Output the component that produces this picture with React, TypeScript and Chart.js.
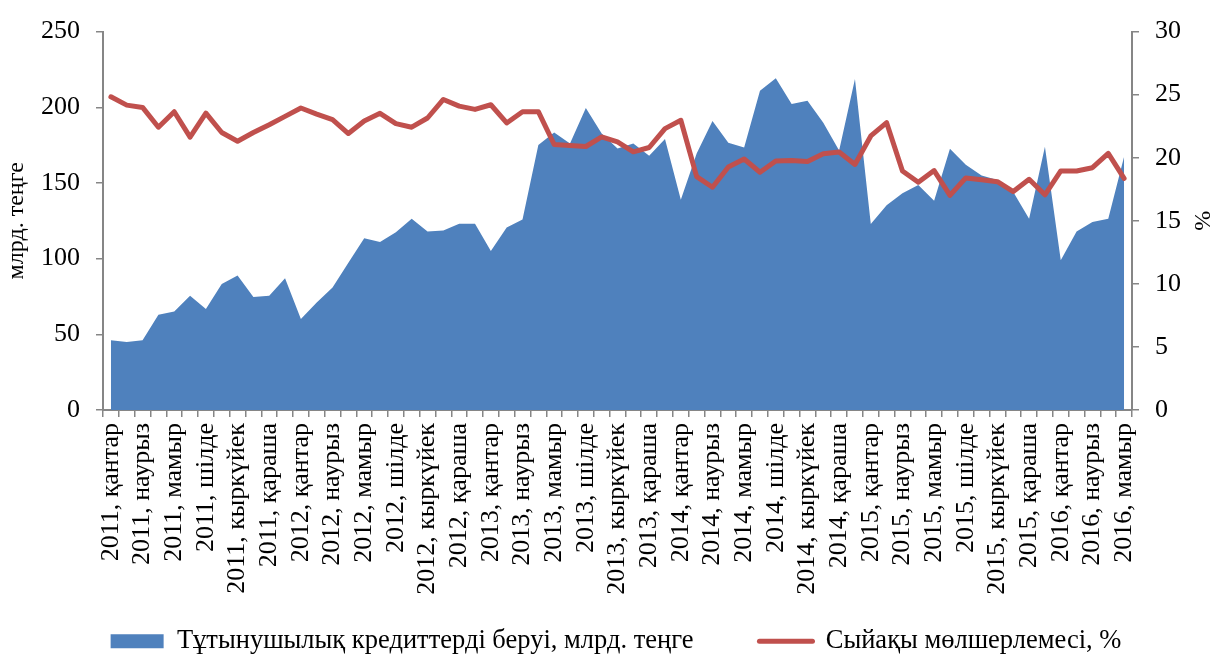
import { useEffect, useRef } from "react";
import { Chart, registerables } from "chart.js";

Chart.register(...registerables);

const YEARS = ["2011", "2012", "2013", "2014", "2015", "2016"];
const MONTHS = [
  "қантар", "ақпан", "наурыз", "сәуір", "мамыр", "маусым",
  "шілде", "тамыз", "кыркүйек", "қазан", "қараша", "желтоқсан",
];
const MONTH_COUNT = 65; // 2011 Jan .. 2016 May

const CATEGORIES: string[] = [];
for (let i = 0; i < MONTH_COUNT; i++) {
  CATEGORIES.push(YEARS[Math.floor(i / 12)] + ", " + MONTHS[i % 12]);
}

// Consumer loans issued, bn tenge (left axis)
const LOANS = [
  46, 45, 46, 63, 65, 75.5, 66.7, 83.3, 88.8, 74.6,
  75.5, 87, 60.2, 71, 80.9, 97.3, 113.5, 111, 117.4, 126.4,
  118, 118.6, 123.1, 123.1, 105, 120.5, 125.8, 175, 183.3, 176,
  199.5, 182.6, 172.8, 176, 168, 179, 138.9, 169.5, 191, 176.5,
  173.4, 211, 219.2, 202.1, 204.3, 189.8, 171.5, 218.7, 122.9, 135.2,
  143.2, 148.7, 138.2, 172.6, 162, 155, 152, 144, 126.4, 173.9,
  98.9, 118, 124.2, 126.4, 167.3,
];

// Interest rate, % (right axis)
const RATE = [
  24.83, 24.17, 23.99, 22.42, 23.65, 21.63, 23.54, 22.0, 21.31, 22.0,
  22.62, 23.28, 23.94, 23.46, 23.02, 21.92, 22.91, 23.52, 22.7, 22.42,
  23.15, 24.62, 24.09, 23.83, 24.2, 22.76, 23.65, 23.65, 21.05, 20.97,
  20.89, 21.65, 21.26, 20.47, 20.81, 22.31, 22.97, 18.5, 17.66, 19.27,
  19.9, 18.85, 19.74, 19.79, 19.71, 20.31, 20.45, 19.47, 21.73, 22.78,
  18.95, 18.06, 18.98, 17.01, 18.4, 18.25, 18.1, 17.32, 18.29, 17.06,
  18.95, 18.95, 19.21, 20.34, 18.37,
];

const LOANS_LABEL = "Тұтынушылық кредиттерді беруі, млрд. теңге";
const RATE_LABEL = "Сыйақы мөлшерлемесі, %";
const LEFT_TITLE = "млрд. теңге";
const RIGHT_TITLE = "%";

const FONT = "'Liberation Serif', 'Times New Roman', serif";
const AXIS_GRAY = "#868686";

const LEGEND_GAP = 66;
const LEGEND_HEIGHT = 42;
const LEGEND_SHIFT = 53;
const PAD_LEFT = 16;

// Keeps a wide horizontal gap between legend items while keeping the legend box short.
const legendSpacing = {
  id: "legendSpacing",
  beforeUpdate(chart: any) {
    const lg = chart.legend;
    if (!lg || lg._spacingPatched) return;
    lg._spacingPatched = true;
    const fit = lg.fit;
    lg.fit = function () {
      fit.call(this);
      this.height = LEGEND_HEIGHT;
    };
    const draw = lg.draw;
    lg.draw = function () {
      const t = this.top;
      this.top = t - LEGEND_SHIFT;
      draw.call(this);
      this.top = t;
    };
  },
};

export default function App() {
  const ref = useRef<HTMLCanvasElement | null>(null);

  useEffect(() => {
    if (!ref.current) return;
    const tickFont = { family: FONT, size: 26 };
    const chart = new Chart(ref.current, {
      type: "line",
      data: {
        labels: CATEGORIES,
        datasets: [
          {
            label: RATE_LABEL,
            data: RATE,
            yAxisID: "y1",
            borderColor: "#C0504D",
            backgroundColor: "#C0504D",
            borderWidth: 5,
            borderCapStyle: "round",
            borderJoinStyle: "round",
            pointRadius: 0,
            pointHoverRadius: 0,
            tension: 0,
            fill: false,
          },
          {
            label: LOANS_LABEL,
            data: LOANS,
            yAxisID: "y",
            borderColor: "rgba(0,0,0,0)",
            backgroundColor: "#4F81BD",
            borderWidth: 0,
            pointRadius: 0,
            pointHoverRadius: 0,
            tension: 0,
            fill: "origin",
          },
        ],
      },
      plugins: [legendSpacing],
      options: {
        responsive: false,
        animation: false,
        layout: { padding: { top: 29, left: PAD_LEFT, right: 0, bottom: 0 } },
        plugins: {
          tooltip: { enabled: false },
          legend: {
            position: "bottom",
            labels: {
              usePointStyle: true,
              pointStyleWidth: 53,
              boxHeight: 14,
              padding: LEGEND_GAP,
              color: "#000",
              font: { family: FONT, size: 26.5 },
              sort: (a: any, b: any) => b.datasetIndex - a.datasetIndex,
              generateLabels: (c: any) => {
                const items = Chart.defaults.plugins.legend.labels.generateLabels(c);
                return items.map((it: any) => ({
                  ...it,
                  pointStyle: it.datasetIndex === 0 ? "line" : "rect",
                  lineWidth: it.datasetIndex === 0 ? 5 : 0,
                  lineCap: "round",
                }));
              },
            },
          },
        },
        scales: {
          x: {
            type: "category",
            offset: true,
            grid: {
              offset: true,
              drawOnChartArea: false,
              drawTicks: true,
              tickLength: 7,
              color: AXIS_GRAY,
              lineWidth: 1.5,
            },
            border: { display: true, color: AXIS_GRAY, width: 2 },
            ticks: {
              autoSkip: false,
              minRotation: 90,
              maxRotation: 90,
              padding: 6,
              color: "#000",
              font: tickFont,
              callback: (_v: any, i: number) => (i % 2 === 0 ? CATEGORIES[i] : ""),
            },
            afterFit: (s: any) => {
              s.height = 247 - LEGEND_HEIGHT;
            },
          },
          y: {
            position: "left",
            min: 0,
            max: 250,
            grid: {
              drawOnChartArea: false,
              drawTicks: true,
              tickLength: 7,
              color: AXIS_GRAY,
              lineWidth: 1.5,
            },
            border: { display: true, color: AXIS_GRAY, width: 2 },
            ticks: { stepSize: 50, padding: 16, color: "#000", font: tickFont },
            title: {
              display: true,
              text: LEFT_TITLE,
              color: "#000",
              font: { family: FONT, size: 24 },
              padding: { top: -14, bottom: 0 },
            },
            afterFit: (s: any) => {
              s.width = 103 - PAD_LEFT;
            },
          },
          y1: {
            position: "right",
            min: 0,
            max: 30,
            grid: {
              drawOnChartArea: false,
              drawTicks: true,
              tickLength: 7,
              color: AXIS_GRAY,
              lineWidth: 1.5,
            },
            border: { display: true, color: AXIS_GRAY, width: 2 },
            ticks: { stepSize: 5, padding: 16, color: "#000", font: tickFont },
            title: {
              display: true,
              text: RIGHT_TITLE,
              color: "#000",
              font: { family: FONT, size: 24 },
              padding: { top: 0, bottom: 0 },
            },
            afterFit: (s: any) => {
              s.width = 84;
            },
          },
        },
      },
    } as any);
    return () => chart.destroy();
  }, []);

  return (
    <div style={{ position: "fixed", left: 0, top: 0, width: 1216, height: 657, background: "#fff" }}>
      <canvas ref={ref} width={1216} height={657} style={{ display: "block" }} />
    </div>
  );
}
